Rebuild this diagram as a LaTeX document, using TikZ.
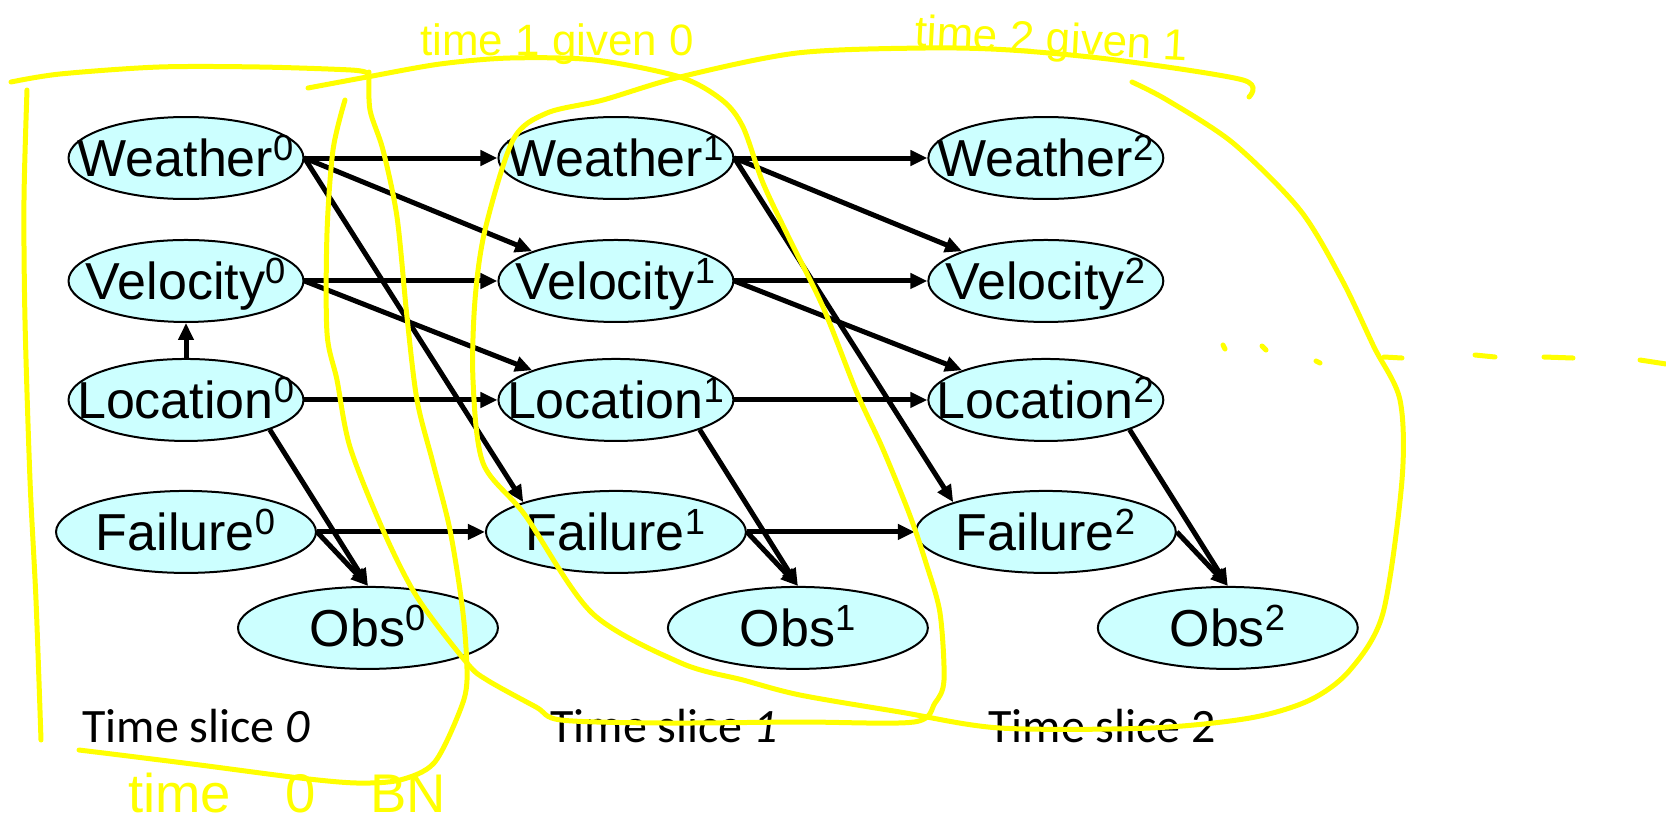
\documentclass[tikz,border=0pt]{standalone}
\usepackage{fontspec}
\setmainfont{Liberation Sans}
\newfontfamily\slicefamily{Carlito}
\usetikzlibrary{
  arrows.meta,
  positioning,
  shapes.geometric
}
\definecolor{dbnFill}{RGB}{204,255,255}
\definecolor{dbnLine}{RGB}{0,0,0}
\definecolor{penYellow}{RGB}{255,255,0}
\tikzset{
  dbnnode/.style={
    ellipse,
    draw=dbnLine,
    line width=0.04cm,
    fill=dbnFill,
    inner sep=0pt,
    minimum width=4.7cm,
    minimum height=1.64cm,
    text height=21pt,
    text depth=0pt,
    font=\fontsize{29.6}{32}\selectfont
  },
  dbnwide/.style={
    dbnnode,
    minimum width=5.2cm
  },
  dbnarrow/.style={
    -{Triangle[length=0.34cm,width=0.3cm]},
    line width=0.1cm,
    draw=dbnLine
  },
  slicelabel/.style={
    anchor=base west,
    inner sep=0pt,
    font=\slicefamily\fontsize{27.3}{30}\selectfont
  },
  penstroke/.style={
    draw=penYellow,
    line width=0.1cm,
    line cap=round,
    line join=round
  },
  pennote/.style={
    anchor=base west,
    inner sep=0pt,
    text=penYellow,
    font=\fontsize{25}{28}\selectfont
  }
}
\newcommand{\dbnlabel}[2]{\makebox[0pt]{#1\textsuperscript{#2}}}

\begin{document}
\begin{tikzpicture}[x=0.02cm, y=-0.02cm]
  \useasboundingbox (0,0) rectangle (1666,822);

  % time slice 0
  \node[dbnnode] (w0) at (186,158) {\dbnlabel{Weather}{0}};
  \node[dbnnode, below=0.78cm of w0] (v0) {\dbnlabel{Velocity}{0}};
  \node[dbnnode, below=0.70cm of v0] (l0) {\dbnlabel{Location}{0}};
  \node[dbnwide, below=0.96cm of l0] (f0) {\dbnlabel{Failure}{0}};
  \node[dbnwide, below=0.24cm of f0, xshift=3.64cm] (o0) {\dbnlabel{Obs}{0}};

  % time slice 1
  \node[dbnnode, right=3.86cm of w0] (w1) {\dbnlabel{Weather}{1}};
  \node[dbnnode, right=3.86cm of v0] (v1) {\dbnlabel{Velocity}{1}};
  \node[dbnnode, right=3.86cm of l0] (l1) {\dbnlabel{Location}{1}};
  \node[dbnwide, right=3.36cm of f0] (f1) {\dbnlabel{Failure}{1}};
  \node[dbnwide, right=3.36cm of o0] (o1) {\dbnlabel{Obs}{1}};

  % time slice 2
  \node[dbnnode, right=3.86cm of w1] (w2) {\dbnlabel{Weather}{2}};
  \node[dbnnode, right=3.86cm of v1] (v2) {\dbnlabel{Velocity}{2}};
  \node[dbnnode, right=3.86cm of l1] (l2) {\dbnlabel{Location}{2}};
  \node[dbnwide, right=3.36cm of f1] (f2) {\dbnlabel{Failure}{2}};
  \node[dbnwide, right=3.36cm of o1] (o2) {\dbnlabel{Obs}{2}};

  \node[slicelabel] (slice0) at (82,742) {Time slice \textit{0}};
  \node[slicelabel] (slice1) at (550,742) {Time slice \textit{1}};
  \node[slicelabel] (slice2) at (988,742) {Time slice 2};

  % arcs inside a slice
  \draw[dbnarrow] (l0) -- (v0);
  \draw[dbnarrow] (l0.south east) -- (o0.north);
  \draw[dbnarrow] (f0.east) -- (o0.north);
  \draw[dbnarrow] (l1.south east) -- (o1.north);
  \draw[dbnarrow] (f1.east) -- (o1.north);
  \draw[dbnarrow] (l2.south east) -- (o2.north);
  \draw[dbnarrow] (f2.east) -- (o2.north);

  % arcs 0 -> 1
  \draw[dbnarrow] (w0.east) -- (w1.west);
  \draw[dbnarrow] (w0.east) -- (v1.north west);
  \draw[dbnarrow] (w0.east) -- (f1.north west);
  \draw[dbnarrow] (v0.east) -- (v1.west);
  \draw[dbnarrow] (v0.east) -- (l1.north west);
  \draw[dbnarrow] (l0.east) -- (l1.west);
  \draw[dbnarrow] (f0.east) -- (f1.west);

  % arcs 1 -> 2
  \draw[dbnarrow] (w1.east) -- (w2.west);
  \draw[dbnarrow] (w1.east) -- (v2.north west);
  \draw[dbnarrow] (w1.east) -- (f2.north west);
  \draw[dbnarrow] (v1.east) -- (v2.west);
  \draw[dbnarrow] (v1.east) -- (l2.north west);
  \draw[dbnarrow] (l1.east) -- (l2.west);
  \draw[dbnarrow] (f1.east) -- (f2.west);

  % yellow pen marks
  \draw[penstroke] plot[smooth] coordinates {(11,82) (60,74) (159,67) (260,67) (351,70) (367,73)};
  \draw[penstroke] plot[smooth] coordinates {(27,90) (24,200) (25,320) (30,480) (36,600) (41,740)};
  \draw[penstroke] plot[smooth] coordinates {(369,72) (370,110) (383,150) (397,217) (407,317)
    (417,400) (433,463) (450,530) (463,613) (467,680) (459,713) (434,763) (400,780) (357,783)
    (300,778) (200,765) (120,755) (79,750)};
  \draw[penstroke] plot[smooth] coordinates {(308,88) (367,77) (440,64) (510,58) (595,60)
    (680,77) (722,100) (743,127) (763,183) (790,240) (823,307) (857,393) (882,447) (909,513)
    (926,563) (940,613) (944,680) (935,703) (914,722) (800,722) (663,723) (561,720) (536,707)
    (487,680) (467,663) (417,597) (383,530) (350,447) (337,380) (327,333) (327,233) (333,150)
    (345,100)};
  \draw[penstroke] plot[smooth] coordinates {(1132,82) (1167,100) (1233,143) (1300,210)
    (1342,280) (1374,347) (1400,400) (1402,480) (1383,613) (1350,670) (1310,700) (1250,718)
    (1150,728) (1000,728) (900,712) (800,695) (743,680) (681,663) (592,613) (525,515)
    (483,463) (473,380) (475,300) (485,230) (513,140) (547,113) (603,100) (680,77) (797,53)
    (925,48) (1010,50) (1116,60) (1243,80) (1249,97)};
  \draw[penstroke] (1223,345) -- (1225,349);
  \draw[penstroke] (1262,346) -- (1266,350);
  \draw[penstroke] (1316,361) -- (1320,363);
  \draw[penstroke] (1384,357) -- (1402,358);
  \draw[penstroke] (1475,355) -- (1495,357);
  \draw[penstroke] (1544,357) -- (1573,358);
  \draw[penstroke] (1640,360) -- (1666,364);

  \node[pennote] (note10) at (420,55) {time 1 given 0};
  \node[pennote, rotate=-3] (note21) at (914,46) {time 2 given 1};
  \node[pennote, font=\fontsize{31}{34}\selectfont] (note0) at (128,812) {time\quad 0\quad BN};
\end{tikzpicture}
\end{document}
